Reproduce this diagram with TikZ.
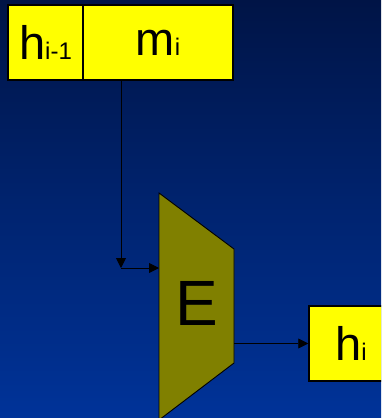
\documentclass[tikz,border=0pt]{standalone}
\usepackage{fontspec}
\setmainfont{Liberation Sans}
\usetikzlibrary{arrows.meta,positioning,calc}
\definecolor{bgtop}{RGB}{0,20,70}
\definecolor{bgmid}{RGB}{0,42,132}
\definecolor{bgbottom}{RGB}{0,51,153}
\definecolor{boxyellow}{RGB}{255,255,0}
\definecolor{encolive}{RGB}{128,128,0}
\tikzset{
	flow/.style={-{Triangle[length=10pt,width=10pt]},line width=0.9pt,draw=black},
	field/.style={draw=black,line width=1.5pt,fill=boxyellow,inner sep=0pt,
		minimum height=75pt,font=\fontsize{47}{47}\selectfont},
}
\newcommand{\subtxt}[1]{{\fontsize{24}{24}\selectfont #1}}

\begin{document}
\begin{tikzpicture}[x=1pt,y=-1pt]
		\useasboundingbox (0,0) rectangle (381,418);
		\clip (0,0) rectangle (381,418);
		\shade[top color=bgtop,middle color=bgmid,bottom color=bgbottom]
		(0,0) rectangle (381,418);
		
		% message block: chaining value and message word
		\node[field,minimum width=75pt] (hprev) at (45.5,42.5) {h\subtxt{i-1}};
		\node[field,minimum width=150pt] (msg) at (158,42.5) {m\subtxt{i}};
		
		% encryption / compression unit
		\coordinate (encTL) at (159,193);
		\coordinate (encBL) at (159,420);
		\coordinate (encTR) at (234,249);
		\coordinate (encBR) at (234,363);
		\draw[line width=0.9pt,fill=encolive] (encTL) -- (encTR) -- (encBR) -- (encBL) -- cycle;
		\node[font=\fontsize{64}{64}\selectfont] (enc) at (196.5,303) {E};
		
		\node[field,minimum width=84pt] (hnext) at (351,343.5) {h\subtxt{i}\hspace{8pt}};
		
		\coordinate (bend) at (121,268);
		\draw[flow] (msg.south -| bend) -- (bend);
		\draw[flow] (bend) -- (bend -| encTL);
		\draw[flow] (hnext.west -| encTR) -- (hnext.west);
		
	\end{tikzpicture}
\end{document}
